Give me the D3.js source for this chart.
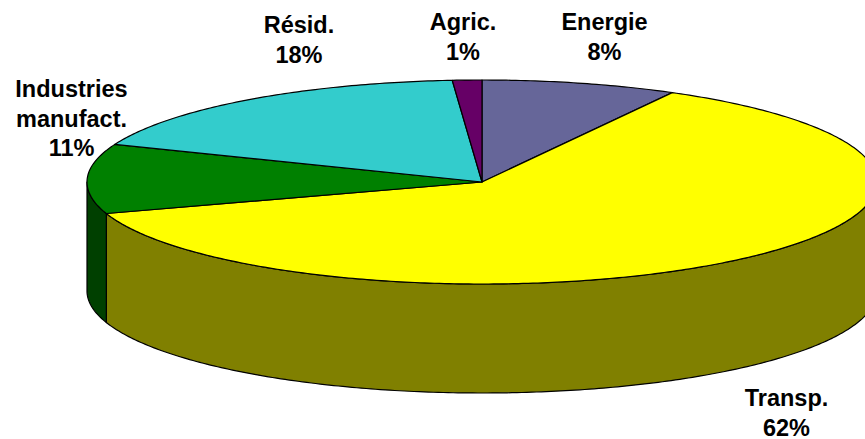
<!DOCTYPE html>
<html><head><meta charset="utf-8">
<script src="https://cdn.jsdelivr.net/npm/d3@7"></script>
<style>html,body{margin:0;padding:0;background:#fff;overflow:hidden}svg{display:block}
text{font-family:"Liberation Sans",Arial,sans-serif;font-weight:bold;font-size:23.5px;fill:#000;text-anchor:middle}</style>
</head><body><div id="c"></div>
<script>
const categories=["Energie","Transp.","Industries manufact.","Résid.","Agric."];
const shares=[8,62,11,17.8,1.2];
const topColors=["#666699","#ffff00","#008000","#33cccc","#660066"];
const sideColors=["#333366","#808000","#004000","#1a6666","#330033"];
const labelLines=[["Energie","8%"],["Transp.","62%"],["Industries","manufact.","11%"],["Résid.","18%"],["Agric.","1%"]];
const labelAt=[[604.5,30],[786.5,406],[71.5,97],[299,33],[463,30]];

const W=865,H=439,cx=482,cy=182,rx=395,ry=102,depth=109;
const svg=d3.select("#c").append("svg").attr("width",W).attr("height",H);
const pie=d3.pie().sort(null).value(d=>d)(shares);
const px=d3.scaleLinear().domain([-1,1]).range([cx-rx,cx+rx]);
const py=d3.scaleLinear().domain([-1,1]).range([cy-ry,cy+ry]);
const pt=(a,dz=0)=>[px(Math.sin(a)),py(-Math.cos(a))+dz];
const line=d3.line();
const steps=(a,b)=>{const n=Math.max(2,Math.ceil((b-a)*80));return d3.range(n+1).map(i=>a+(b-a)*i/n)};
const sw=1.2;

// side walls: visible front half only (angles between PI/2 and 3PI/2)
const wallLayer=svg.append("g");
pie.forEach((s,i)=>{
  const a=Math.max(s.startAngle,Math.PI/2),b=Math.min(s.endAngle,3*Math.PI/2);
  if(b<=a)return;
  const arcPts=steps(a,b);
  const poly=arcPts.map(t=>pt(t)).concat(arcPts.slice().reverse().map(t=>pt(t,depth)));
  wallLayer.append("path").attr("d",line(poly)+"Z").attr("fill",sideColors[i])
    .attr("stroke","#000").attr("stroke-width",sw).attr("stroke-linejoin","round");
});

// top faces
const faceLayer=svg.append("g");
pie.forEach((s,i)=>{
  const poly=[[cx,cy]].concat(steps(s.startAngle,s.endAngle).map(t=>pt(t)));
  faceLayer.append("path").attr("d",line(poly)+"Z").attr("fill",topColors[i])
    .attr("stroke","#000").attr("stroke-width",sw).attr("stroke-linejoin","round");
});

// labels
const lh=29.7;
labelLines.forEach((ls,i)=>{
  const t=svg.append("text").attr("x",labelAt[i][0]).attr("y",labelAt[i][1]);
  ls.forEach((l,j)=>t.append("tspan").attr("x",labelAt[i][0]).attr("y",labelAt[i][1]+j*lh).text(l));
});
</script></body></html>
